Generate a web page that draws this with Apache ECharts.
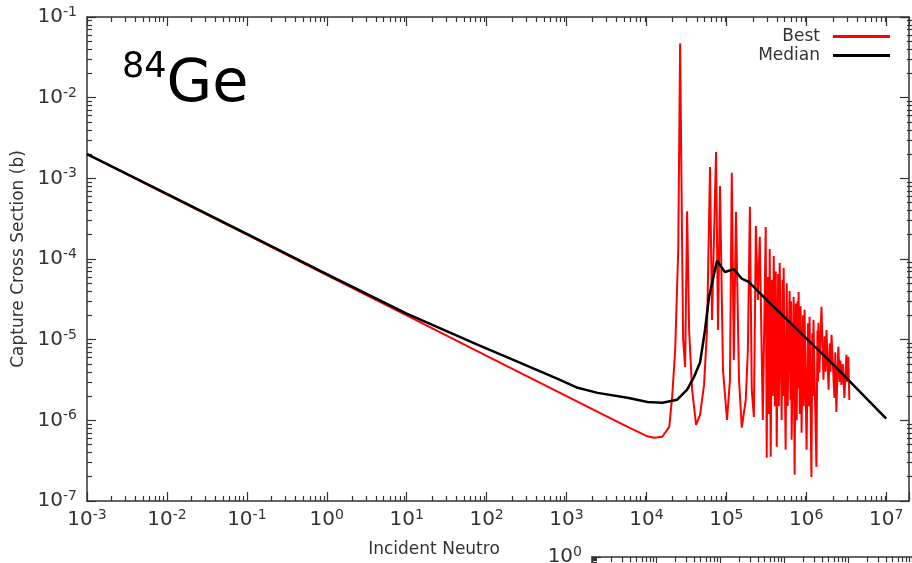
<!DOCTYPE html>
<html><head><meta charset="utf-8">
<script src="https://cdn.jsdelivr.net/npm/echarts@6/dist/echarts.min.js"></script>
<style>html,body{margin:0;padding:0;background:#fff}#c{width:912px;height:563px}</style>
</head><body><div id="c"></div>
<script>
// ---- data ----
const legendNames = ['Best', 'Median'];
const energyBest = [1e-3,1e-2,1e-1,1,10,100,1e3,3e3,6e3,1e4,1.25e4,1.58e4,1.93e4,2.10e4,2.29e4,2.50e4,2.64e4,2.80e4,2.88e4,3.05e4,3.23e4,3.42e4,3.73e4,4.18e4,4.69e4,5.26e4,5.73e4,6.25e4,6.62e4,7.43e4,7.87e4,8.33e4,9.08e4,1.02e5,1.11e5,1.17e5,1.24e5,1.32e5,1.44e5,1.56e5,1.75e5,1.86e5,1.97e5,2.08e5,2.21e5,2.34e5,2.48e5,2.62e5,2.86e5,
  3.11e5,3.20e5,3.30e5,3.38e5,3.49e5,3.59e5,3.72e5,3.80e5,3.92e5,4.05e5,4.15e5,4.27e5,4.45e5,4.55e5,4.65e5,4.92e5,5.05e5,5.12e5,5.21e5,5.52e5,5.70e5,5.85e5,6.19e5,6.35e5,6.45e5,6.56e5,6.95e5,7.15e5,7.40e5,7.60e5,7.80e5,7.90e5,8.02e5,8.30e5,8.50e5,8.74e5,9.10e5,9.30e5,9.52e5,1.01e6,1.05e6,1.07e6,1.10e6,1.16e6,1.19e6,1.21e6,1.23e6,1.34e6,1.38e6,1.40e6,1.42e6,1.46e6,1.55e6,1.64e6,1.70e6,1.74e6,1.79e6,1.90e6,1.97e6,2.01e6,2.07e6,2.25e6,2.31e6,2.38e6,2.52e6,2.62e6,2.68e6,2.75e6,2.87e6,3.00e6,3.18e6,3.26e6,3.36e6,3.46e6];
const xsBest = [2.0e-3,6.3e-4,2.0e-4,6.3e-5,2.0e-5,6.3e-6,2.0e-6,1.15e-6,8.2e-7,6.4e-7,6.07e-7,6.25e-7,8.3e-7,1.95e-6,7.5e-6,1.3e-4,4.7e-2,1.3e-4,1.0e-5,4.6e-6,3.9e-4,1.32e-5,2.4e-6,8.8e-7,1.17e-6,2.75e-6,1.32e-5,1.38e-3,1.76e-5,2.12e-3,1.32e-5,8.05e-4,4.2e-6,1.01e-6,3.2e-6,1.17e-3,5.6e-6,3.84e-4,3.2e-6,8.1e-7,1.8e-6,7.5e-6,4.43e-4,2.4e-6,1.10e-6,2.57e-4,3.1e-5,1.88e-4,1.01e-6,
  2.50e-4,3.43e-7,6.0e-5,1.2e-6,1.33e-4,3.53e-7,5.5e-5,2.0e-6,1.09e-4,1.5e-6,7.0e-5,4.69e-7,6.5e-5,1.5e-6,8.95e-5,1.01e-6,5.5e-5,2.0e-6,7.76e-5,4.31e-7,5.0e-5,1.5e-6,4.02e-5,1.8e-6,3.0e-5,5.73e-7,3.39e-5,2.11e-7,2.8e-5,1.0e-6,3.0e-5,2.5e-6,3.91e-5,1.2e-6,2.6e-5,7.0e-7,2.0e-5,1.5e-6,2.34e-5,4.31e-7,1.6e-5,1.5e-6,1.92e-5,1.99e-7,1.2e-5,2.0e-6,1.76e-5,2.65e-7,1.3e-5,3.0e-6,1.62e-5,3.88e-6,2.55e-5,3.18e-6,1.1e-5,4.0e-6,1.32e-5,2.39e-6,9.0e-6,4.0e-6,1.15e-5,1.90e-6,7.0e-6,1.27e-6,8.14e-6,3.0e-6,5.5e-6,2.75e-6,5.0e-6,1.90e-6,6.48e-6,3.0e-6,6.12e-6,1.79e-6];
const energyMedian = [1e-3,1e-2,1e-1,1,10,78,247,776,1.38e3,2.45e3,5.8e3,1.03e4,1.58e4,2.43e4,3.23e4,3.95e4,4.69e4,5.41e4,6.07e4,7.64e4,9.6e4,1.24e5,1.56e5,1.91e5,3.21e5,7.57e5,2.38e6,1e7];
const xsMedian = [2.0e-3,6.4e-4,2.05e-4,6.5e-5,2.1e-5,8.6e-6,5.3e-6,3.27e-6,2.53e-6,2.19e-6,1.90e-6,1.69e-6,1.65e-6,1.8e-6,2.4e-6,3.46e-6,5.2e-6,1.32e-5,3.4e-5,9.5e-5,6.9e-5,7.5e-5,5.7e-5,5.2e-5,3.1e-5,1.36e-5,4.5e-6,1.05e-6];
const xRange = [1e-3, 1.93e7];
const yRange = [1e-7, 1e-1];
const xName = 'Incident Neutro';
const yName = 'Capture Cross Section (b)';
const isotopeMass = '84', isotopeSymbol = 'Ge';
const lowerXRange = [0.1, 1e4], lowerYRange = [1e-3, 1];

// ---- chart ----
const FONT = '"DejaVu Sans",sans-serif';
const TXT = '#333';
const lineC = '#333';
function powLabel(v){
  const l = Math.log10(v), e = Math.round(l);
  if (Math.abs(l - e) > 1e-6) return '';
  return '{b|10}{s|' + e + '}';
}
const rich = {
  b:{fontSize:20, fontFamily:FONT, color:TXT},
  s:{fontSize:14, fontFamily:FONT, color:TXT, verticalAlign:'top', padding:[0,0,9,0]}
};
function logAxis(extra){
  return Object.assign({
    type:'log', logBase:10, interval:1,
    axisLine:{show:true, onZero:false, lineStyle:{color:lineC, width:1.5}},
    axisTick:{show:true, inside:true, length:9, lineStyle:{color:lineC, width:1.2}},
    minorTick:{show:false},
    splitLine:{show:false}, minorSplitLine:{show:false},
    axisLabel:{show:false}
  }, extra);
}
// minor tick positions (2..9 x 10^n) in decade units, for helper axes of overlay grids
function minorExps(lo, hi){
  const out = [];
  for (let n = Math.floor(lo); n <= Math.ceil(hi); n++)
    for (let k = 2; k <= 9; k++) { const v = n + Math.log10(k); if (v > lo + 1e-9 && v < hi - 1e-9) out.push(v); }
  return out;
}
function minorAxis(gridIndex, position, range){
  const lo = Math.log10(range[0]), hi = Math.log10(range[1]);
  return {type:'value', gridIndex, position, min:lo, max:hi,
    axisLine:{show:false, onZero:false}, axisLabel:{show:false}, splitLine:{show:false},
    axisTick:{show:true, inside:true, length:5, customValues:minorExps(lo, hi), lineStyle:{color:lineC, width:1.2}}};
}
const mainRect = {left:87, top:17, width:826, height:484, containLabel:false};
const lowerRect = {left:592, top:557, width:340, height:200, containLabel:false};
const chart = echarts.init(document.getElementById('c'));
chart.setOption({
  animation:false,
  backgroundColor:'#fff',
  title:{
    text:'{a|' + isotopeMass + '}{b|' + isotopeSymbol + '}',
    left:117, top:45,
    textStyle:{fontWeight:'normal', rich:{
      a:{fontSize:35, fontFamily:FONT, fontWeight:'normal', color:'#000', verticalAlign:'top'},
      b:{fontSize:59, lineHeight:72, fontFamily:FONT, fontWeight:'normal', color:'#000'}
    }}
  },
  legend:{
    data:legendNames, orient:'vertical', right:17, top:23, align:'right',
    icon:'rect', itemWidth:57, itemHeight:3, itemGap:2,
    textStyle:{fontSize:17, fontFamily:FONT, color:TXT, padding:[0,8,0,0]}
  },
  grid:[
    Object.assign({}, mainRect),   // 0 main plot
    Object.assign({}, lowerRect),  // 1 lower (cropped) plot
    Object.assign({}, mainRect),   // 2 minor ticks bottom/left
    Object.assign({}, mainRect),   // 3 minor ticks top/right
    Object.assign({}, lowerRect)   // 4 minor ticks lower plot
  ],
  xAxis:[
    logAxis({gridIndex:0, position:'bottom', min:xRange[0], max:xRange[1],
      axisLabel:{show:true, formatter:powLabel, rich, margin:7, showMaxLabel:true, showMinLabel:true},
      name:xName, nameLocation:'middle', nameGap:40,
      nameTextStyle:{fontSize:17, fontFamily:FONT, color:TXT, padding:[0,128,0,0]}}),
    logAxis({gridIndex:0, position:'top', min:xRange[0], max:xRange[1]}),
    logAxis({gridIndex:1, position:'top', min:lowerXRange[0], max:lowerXRange[1]}),
    minorAxis(2, 'bottom', xRange),
    minorAxis(3, 'top', xRange),
    minorAxis(4, 'top', lowerXRange)
  ],
  yAxis:[
    logAxis({gridIndex:0, position:'left', min:yRange[0], max:yRange[1],
      axisLabel:{show:true, formatter:powLabel, rich, margin:10, showMaxLabel:true, showMinLabel:true},
      name:yName, nameLocation:'middle', nameGap:58,
      nameTextStyle:{fontSize:17, fontFamily:FONT, color:TXT}}),
    logAxis({gridIndex:0, position:'right', min:yRange[0], max:yRange[1]}),
    logAxis({gridIndex:1, position:'left', min:lowerYRange[0], max:lowerYRange[1],
      axisLabel:{show:true, formatter:powLabel, rich, margin:10, showMaxLabel:true}}),
    minorAxis(2, 'left', yRange),
    minorAxis(3, 'right', yRange),
    minorAxis(4, 'left', lowerYRange)
  ],
  series:[
    {name:legendNames[0], type:'line', xAxisIndex:0, yAxisIndex:0, symbol:'none', z:3,
     data:energyBest.map((e,i)=>[e, xsBest[i]]),
     lineStyle:{color:'#ff0000', width:2}, itemStyle:{color:'#ff0000'}},
    {name:legendNames[1], type:'line', xAxisIndex:0, yAxisIndex:0, symbol:'none', z:4,
     data:energyMedian.map((e,i)=>[e, xsMedian[i]]),
     lineStyle:{color:'#000', width:2.5}, itemStyle:{color:'#000'}}
  ]
});
</script></body></html>
